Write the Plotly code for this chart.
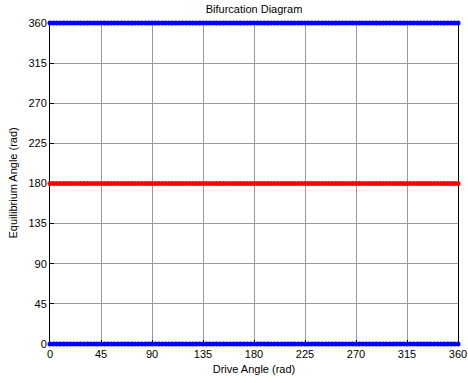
import numpy as np
import plotly.graph_objects as go

drive_angle = list(range(0, 361, 3))
eq_low = [0] * len(drive_angle)
eq_mid = [180] * len(drive_angle)
eq_high = [360] * len(drive_angle)
ticks = [0, 45, 90, 135, 180, 225, 270, 315, 360]

fig = go.Figure()
for yv, col in [(eq_mid, "#ff0000"), (eq_low, "#0000ff"), (eq_high, "#0000ff")]:
    fig.add_trace(go.Scatter(x=drive_angle, y=yv, mode="lines+markers",
                             line=dict(color=col, width=1),
                             marker=dict(color=col, size=5),
                             cliponaxis=False, showlegend=False))

axis_common = dict(range=[0, 360], tickvals=ticks, showgrid=True,
                   gridcolor="#9a9a9a", gridwidth=1, showline=True,
                   linecolor="black", linewidth=1, mirror=True,
                   ticks="inside", ticklen=4, tickcolor="black",
                   zeroline=False, automargin=False, layer="below traces",
                   tickfont=dict(size=11, color="black"))

fig.update_xaxes(**axis_common, title=dict(text="Drive Angle (rad)", standoff=6, font=dict(size=11, color="black")))
fig.update_yaxes(**axis_common)

fig.add_annotation(text="Equilibrium Angle (rad)", xref="paper", yref="paper",
                   x=-38 / 408, y=0.5, xanchor="center", yanchor="middle",
                   textangle=-90, showarrow=False, font=dict(size=11, color="black"))

fig.update_layout(width=468, height=383,
                  margin=dict(l=50, r=10, t=23, b=39),
                  paper_bgcolor="white", plot_bgcolor="white",
                  font=dict(family="Liberation Sans, Arial", size=11, color="black"),
                  title=dict(text="Bifurcation Diagram", x=0.5, xref="paper", xanchor="center",
                             y=0.985, yanchor="top", font=dict(size=11, color="black")))

fig.write_html("out.html", config={"displayModeBar": False},
               post_script="document.body.style.margin='0';")
